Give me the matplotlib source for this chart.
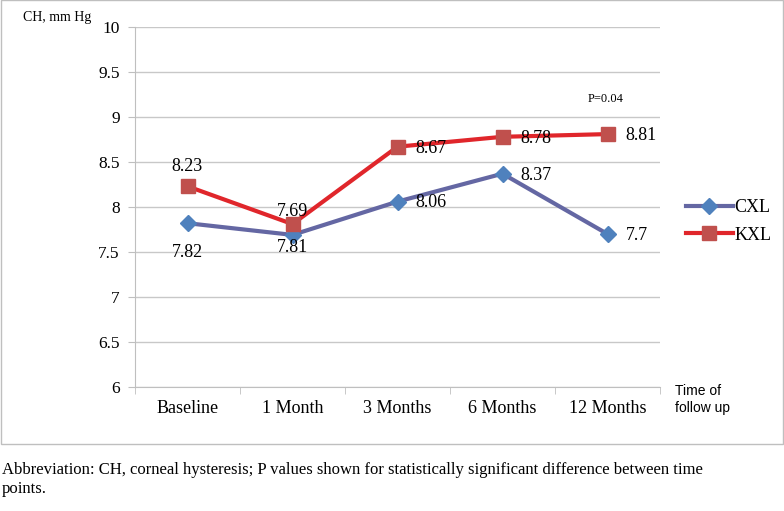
import numpy as np
import matplotlib
matplotlib.use("Agg")
import matplotlib.pyplot as plt
from matplotlib.patches import Rectangle

# Donnees
categories = ["Baseline", "1 Month", "3 Months", "6 Months", "12 Months"]
cxl_values = [7.82, 7.69, 8.06, 8.37, 7.70]
kxl_values = [8.23, 7.81, 8.67, 8.78, 8.81]
# etiquettes telles qu'affichees (inversees a 1 mois dans l'original)
cxl_labels = ["7.82", "7.81", "8.06", "8.37", "7.7"]
kxl_labels = ["8.23", "7.69", "8.67", "8.78", "8.81"]
y_ticks = [6, 6.5, 7, 7.5, 8, 8.5, 9, 9.5, 10]
y_tick_labels = ["6", "6.5", "7", "7.5", "8", "8.5", "9", "9.5", "10"]

# decalage des etiquettes (points) : (dx, dy, ha)
cxl_offsets = [(0, -21, "center"), (0, -9, "center"), (13, -1, "left"), (13, -1, "left"), (13, -1, "left")]
kxl_offsets = [(0, 14, "center"), (0, 9, "center"), (13, -1, "left"), (13, -1, "left"), (13, -1, "left")]

serif = "Liberation Serif"
sans = "Liberation Sans"

fig = plt.figure(figsize=(7.84, 5.11), dpi=100)
ax = fig.add_axes([135 / 784, 1 - 387 / 511, 525 / 784, 360 / 511])

# Cadre exterieur
fig.patches.append(Rectangle((0.5 / 784, 1 - 444 / 511), 782 / 784, 443.5 / 511,
                             transform=fig.transFigure, fill=False,
                             edgecolor="#bfbfbf", linewidth=1.0))

x = np.arange(len(categories))
ax.plot(x, cxl_values, color="#6467a3", linewidth=3, marker="D", markersize=8,
        markerfacecolor="#4f81bd", markeredgecolor="#4f81bd", label="CXL", zorder=3)
ax.plot(x, kxl_values, color="#e0262b", linewidth=3, marker="s", markersize=10,
        markerfacecolor="#c0504d", markeredgecolor="#c0504d", label="KXL", zorder=4)

# Etiquettes de valeurs
for i in range(len(categories)):
	dx, dy, ha = kxl_offsets[i]
	ax.annotate(kxl_labels[i], (x[i], kxl_values[i]), xytext=(dx, dy), textcoords="offset points",
	            ha=ha, va="center", fontsize=13, family=serif, zorder=5)
	dx, dy, ha = cxl_offsets[i]
	ax.annotate(cxl_labels[i], (x[i], cxl_values[i]), xytext=(dx, dy), textcoords="offset points",
	            ha=ha, va="center", fontsize=13, family=serif, zorder=5)

ax.set_xlim(-0.5, len(categories) - 0.5)
ax.set_ylim(6, 10)
ax.set_yticks(y_ticks)
ax.set_yticklabels(y_tick_labels, fontsize=12.5, family=serif)
ax.set_xticks(x)
ax.set_xticklabels(categories, fontsize=13, family=serif)
ax.set_xticks(np.arange(-0.5, len(categories), 1), minor=True)
ax.tick_params(axis="x", which="major", length=0, pad=9)
ax.tick_params(axis="x", which="minor", length=5, color="#bfbfbf")
ax.tick_params(axis="y", length=5, color="#bfbfbf", pad=6)
ax.grid(axis="y", color="#c8c8c8", linewidth=1)
ax.set_axisbelow(True)
for s in ["top", "right"]:
	ax.spines[s].set_visible(False)
ax.spines["left"].set_color("#bfbfbf")
ax.spines["bottom"].set_color("#bfbfbf")

# Textes
fig.text(23 / 784, 1 - 18 / 511, "CH, mm Hg", fontsize=10, family=serif, va="center")
fig.text(675 / 784, 1 - 384 / 511, "Time of\nfollow up", fontsize=10, family=sans, va="top",
         linespacing=1.25)
ax.text(x[4] - 0.02, 9.2, "P=0.04", fontsize=9, family=serif, ha="center", va="center")
fig.text(2 / 784, 1 - 470 / 511, "Abbreviation: CH, corneal hysteresis; P values shown for statistically significant difference between time",
         fontsize=12, family=serif, va="center")
fig.text(2 / 784, 1 - 489 / 511, "points.", fontsize=12, family=serif, va="center")

ax.legend(loc="center left", bbox_to_anchor=(1.035, 0.46), frameon=False,
          prop={"family": serif, "size": 13}, handlelength=2.6, handletextpad=0.1,
          labelspacing=0.6, borderaxespad=0)

fig.savefig("out.png", dpi=100)
